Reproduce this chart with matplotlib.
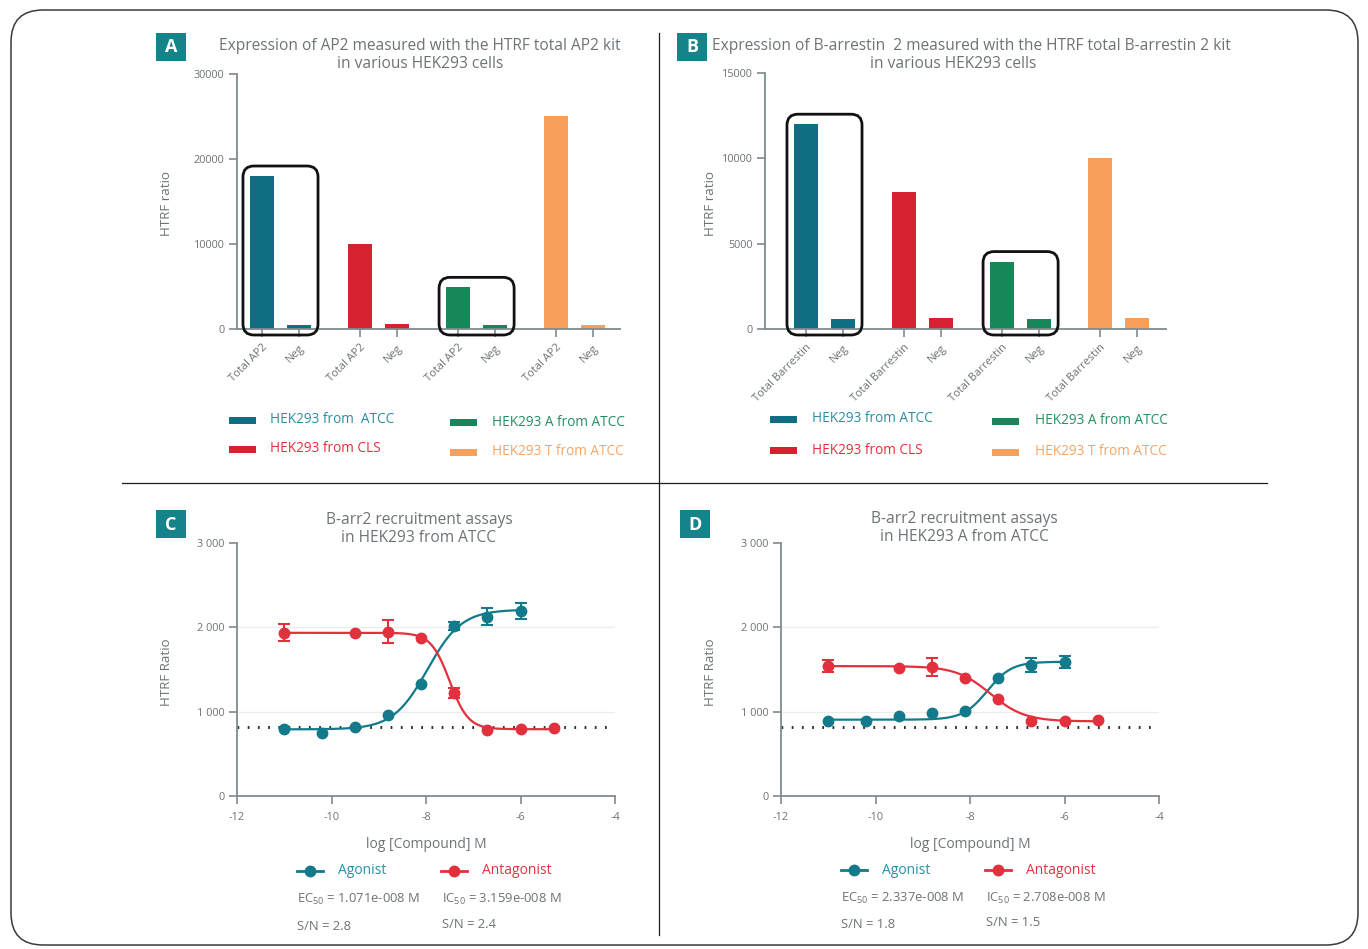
import numpy as np
import matplotlib
matplotlib.use("Agg")
import matplotlib.pyplot as plt
from matplotlib.patches import FancyBboxPatch, Rectangle
from matplotlib.lines import Line2D
from matplotlib.transforms import IdentityTransform
from matplotlib.ticker import FuncFormatter

# ---------------------------------------------------------------- data
cell_lines = ["HEK293 from  ATCC", "HEK293 from CLS", "HEK293 A from ATCC", "HEK293 T from ATCC"]
cell_lines_b = ["HEK293 from ATCC", "HEK293 from CLS", "HEK293 A from ATCC", "HEK293 T from ATCC"]

ap2_total = [18000, 10000, 4900, 25000]
ap2_neg = [500, 550, 500, 500]
barr_total = [12000, 8000, 3950, 10000]
barr_neg = [600, 650, 600, 650]
highlight_groups = [0, 2]

ap2_labels = ["Total AP2", "Neg"]
barr_labels = ["Total Barrestin", "Neg"]

log_conc_agonist = [-11.0, -10.2, -9.5, -8.8, -8.1, -7.4, -6.7, -6.0]
log_conc_antagonist = [-11.0, -9.5, -8.8, -8.1, -7.4, -6.7, -6.0, -5.3]

atcc_agonist = [795, 751, 815, 964, 1325, 2017, 2127, 2198]
atcc_agonist_err = [0, 0, 0, 0, 0, 50, 105, 95]
atcc_antagonist = [1937, 1929, 1949, 1870, 1218, 783, 798, 802]
atcc_antagonist_err = [100, 0, 135, 0, 60, 0, 0, 0]

a_agonist = [890, 890, 949, 985, 1005, 1404, 1554, 1586]
a_agonist_err = [0, 0, 0, 0, 0, 0, 80, 70]
a_antagonist = [1542, 1522, 1534, 1404, 1151, 890, 890, 898]
a_antagonist_err = [70, 0, 107, 0, 0, 0, 0, 0]

# four-parameter logistic fits: (bottom, top, EC50/IC50 [M], hill slope)
atcc_agonist_fit = (790, 2210, 1.071e-8, 1.2)
atcc_antagonist_fit = (792, 1935, 3.159e-8, 2.2)
a_agonist_fit = (905, 1592, 2.337e-8, 1.7)
a_antagonist_fit = (885, 1540, 2.708e-8, 1.2)

atcc_stats = ["EC$_{\\mathregular{50}}$ = 1.071e-008 M", "S/N = 2.8",
              "IC$_{\\mathregular{50}}$ = 3.159e-008 M", "S/N = 2.4"]
a_stats = ["EC$_{\\mathregular{50}}$ = 2.337e-008 M", "S/N = 1.8",
           "IC$_{\\mathregular{50}}$ = 2.708e-008 M", "S/N = 1.5"]

baseline = 815

# ---------------------------------------------------------------- style
W, H, DPI = 1368, 949, 100
plt.rcParams['font.family'] = ['Open Sans', 'DejaVu Sans']
plt.rcParams['mathtext.fontset'] = 'custom'
plt.rcParams['mathtext.rm'] = 'Open Sans'

bar_colors = ["#0f6e82", "#d6222e", "#17875a", "#f6a05c"]
legend_text_colors = ["#2a8da2", "#e0303c", "#22905f", "#f7a463"]
agonist_color = "#137a8b"
antagonist_color = "#e2303c"
agonist_text = "#2493a8"
antagonist_text = "#e5323f"
axis_color = "#7f8b90"
text_gray = "#6c7377"
badge_color = "#15838a"

TITLE_FS = 11.2
TICK_FS = 7.8

fig = plt.figure(figsize=(W / DPI, H / DPI), dpi=DPI)
fig.patch.set_facecolor("white")


def px_axes(l, t, r, b):
    return fig.add_axes([l / W, 1 - b / H, (r - l) / W, (b - t) / H])


def ftext(x, y, s, **kw):
    kw.setdefault("color", text_gray)
    return fig.text(x / W, 1 - y / H, s, **kw)


def badge(l, t, letter):
    fig.add_artist(Rectangle((l / W, 1 - (t + 28) / H), 30 / W, 28 / H,
                             transform=fig.transFigure, color=badge_color, lw=0))
    ftext(l + 15, t + 14.5, letter, color="white", fontsize=13, fontweight="bold",
          ha="center", va="center")


def style_axes(ax):
    for s in ("top", "right"):
        ax.spines[s].set_visible(False)
    for s in ("left", "bottom"):
        ax.spines[s].set_color(axis_color)
        ax.spines[s].set_linewidth(1.3)
    ax.tick_params(colors=axis_color, labelcolor=text_gray, width=1.2, length=5.5,
                   labelsize=TICK_FS)
    ax.set_facecolor("none")


# ---------------------------------------------------------------- frame
fig.add_artist(FancyBboxPatch((11, H - 945), 1347, 935,
                              boxstyle="round,pad=0,rounding_size=32",
                              transform=IdentityTransform(), fill=False,
                              ec="#3a3a3a", lw=1.1))
fig.add_artist(Line2D([659 / W, 659 / W], [1 - 33 / H, 1 - 935 / H], color="#1e1e1e", lw=0.9))
fig.add_artist(Line2D([122 / W, 1267 / W], [1 - 483 / H, 1 - 483 / H], color="#1e1e1e", lw=0.9))


# ---------------------------------------------------------------- bar panels
GROUP_GAP = 2.65
BAR_W = 0.65


def bar_panel(box, xlim, ymax, ystep, totals, negs, labels, ylabel_x):
    ax = px_axes(*box)
    style_axes(ax)
    positions, heights, colors, ticklabels = [], [], [], []
    for g in range(4):
        for i, val in enumerate((totals[g], negs[g])):
            positions.append(g * GROUP_GAP + i)
            heights.append(val)
            colors.append(bar_colors[g])
            ticklabels.append(labels[i])
    ax.bar(positions, heights, width=BAR_W, color=colors, lw=0)
    ax.set_xlim(*xlim)
    ax.set_ylim(0, ymax)
    ax.set_yticks(np.arange(0, ymax + 1, ystep))
    ax.yaxis.set_major_formatter(FuncFormatter(lambda v, p: f"{int(v)}"))
    ax.set_xticks(positions)
    ax.set_xticklabels(ticklabels, rotation=45, ha="right", rotation_mode="anchor",
                       fontsize=8)
    ax.tick_params(axis="x", length=6)
    ftext(ylabel_x, 203, "HTRF ratio", fontsize=9.6, rotation=90, ha="center", va="center")

    # rounded frames around the highlighted pairs
    for g in highlight_groups:
        x0 = g * GROUP_GAP - BAR_W / 2
        x1 = g * GROUP_GAP + 1 + BAR_W / 2
        (px0, py0) = ax.transData.transform((x0, 0))
        (px1, py1) = ax.transData.transform((x1, max(totals[g], negs[g])))
        px0 -= 7
        px1 += 7
        py0 -= 6
        py1 += 10
        fig.add_artist(FancyBboxPatch((px0, py0), px1 - px0, py1 - py0,
                                      boxstyle="round,pad=0,rounding_size=11",
                                      transform=IdentityTransform(), fill=False,
                                      ec="#111111", lw=2.0, clip_on=False))
    return ax


def bar_legend(entries, x_patch_left, x_patch_right, x_text_left, x_text_right, ys_left, ys_right):
    spots = [(x_patch_left, x_text_left, ys_left[0]), (x_patch_left, x_text_left, ys_left[1]),
             (x_patch_right, x_text_right, ys_right[0]), (x_patch_right, x_text_right, ys_right[1])]
    for k, (px, tx, y) in enumerate(spots):
        fig.add_artist(Rectangle((px / W, 1 - (y + 3.5) / H), 27 / W, 7 / H,
                                 transform=fig.transFigure, color=bar_colors[k], lw=0))
        ftext(tx, y, entries[k], color=legend_text_colors[k], fontsize=9.8, va="center")


axA = bar_panel((237, 74, 620, 329), ((237 - 262) / 37, (620 - 262) / 37), 30000, 10000,
                ap2_total, ap2_neg, ap2_labels, 166)
axB = bar_panel((765, 73, 1166, 329), ((765 - 806) / 37, (1166 - 806) / 37), 15000, 5000,
                barr_total, barr_neg, barr_labels, 711)

badge(156, 33, "A")
badge(677, 33, "B")
ftext(420, 46, "Expression of AP2 measured with the HTRF total AP2 kit", fontsize=TITLE_FS,
      ha="center", va="center")
ftext(420, 64, "in various HEK293 cells", fontsize=TITLE_FS, ha="center", va="center")
ftext(712, 46, "Expression of B-arrestin  2 measured with the HTRF total B-arrestin 2 kit",
      fontsize=TITLE_FS, ha="left", va="center")
ftext(953, 64, "in various HEK293 cells", fontsize=TITLE_FS, ha="center", va="center")

bar_legend(cell_lines, 229, 450, 270, 492, (420, 449), (422, 452))
bar_legend(cell_lines_b, 770, 992, 812, 1035, (419, 450), (421, 452))


# ---------------------------------------------------------------- dose-response panels
def four_pl(x, bottom, top, ec50, hill, rising=True):
    logc = np.log10(ec50)
    s = hill if rising else -hill
    return bottom + (top - bottom) / (1 + 10 ** ((logc - x) * s))


def curve_panel(box, ag, ag_err, ag_fit, ant, ant_err, ant_fit, ylabel_x, xlabel_x):
    ax = px_axes(*box)
    style_axes(ax)
    ax.set_xlim(-12, -4)
    ax.set_ylim(0, 3000)
    ax.set_xticks([-12, -10, -8, -6, -4])
    ax.set_yticks([0, 1000, 2000, 3000])
    ax.yaxis.set_major_formatter(FuncFormatter(
        lambda v, p: f"{int(v):,}".replace(",", " ")))
    ax.xaxis.set_major_formatter(FuncFormatter(lambda v, p: f"{int(v)}"))
    ax.tick_params(axis="x", pad=6)
    for g in (1000, 2000):
        ax.axhline(g, color="#ececec", lw=0.9, zorder=0)
    ax.plot([-12, -4.05], [baseline, baseline], color="#2b2b2b", lw=2.1,
            linestyle=(0, (0.6, 2.9)), zorder=1)
    ftext(ylabel_x, 672, "HTRF Ratio", fontsize=9.6, rotation=90, ha="center", va="center")
    ftext(xlabel_x, 845, "log [Compound] M", fontsize=10, ha="center", va="center")

    for xs, ys, errs, fit, color, rising in (
            (log_conc_agonist, ag, ag_err, ag_fit, agonist_color, True),
            (log_conc_antagonist, ant, ant_err, ant_fit, antagonist_color, False)):
        xc = np.linspace(xs[0], xs[-1], 300)
        ax.plot(xc, four_pl(xc, *fit, rising=rising), color=color, lw=1.6, zorder=3)
        ax.plot(xs, ys, "o", color=color, ms=7.5, zorder=4)
        idx = [i for i, e in enumerate(errs) if e > 0]
        ax.errorbar([xs[i] for i in idx], [ys[i] for i in idx],
                    yerr=[errs[i] for i in idx], fmt="none", ecolor=color,
                    elinewidth=1.5, capsize=4.3, capthick=1.5, zorder=4)
    return ax


def curve_legend(x0, y_leg, stats, x_ant):
    for lx, color, label, tcolor in ((x0, agonist_color, "Agonist", agonist_text),
                                     (x_ant, antagonist_color, "Antagonist", antagonist_text)):
        yf = 1 - y_leg / H
        fig.add_artist(Line2D([lx / W, (lx + 26) / W], [yf, yf], color=color, lw=2))
        fig.add_artist(Line2D([(lx + 13) / W], [yf], marker="o", ms=7.5, color=color))
        ftext(lx + 41, y_leg, label, color=tcolor, fontsize=10, va="center")
    ftext(x0, y_leg + 28, stats[0], fontsize=9.4, va="center")
    ftext(x0, y_leg + 55, stats[1], fontsize=9.4, va="center")
    ftext(x_ant + 1, y_leg + 28, stats[2], fontsize=9.4, va="center")
    ftext(x_ant + 1, y_leg + 53, stats[3], fontsize=9.4, va="center")


axC = curve_panel((237, 543, 615, 796), atcc_agonist, atcc_agonist_err, atcc_agonist_fit,
                  atcc_antagonist, atcc_antagonist_err, atcc_antagonist_fit, 166, 426)
axD = curve_panel((781, 543, 1159, 796), a_agonist, a_agonist_err, a_agonist_fit,
                  a_antagonist, a_antagonist_err, a_antagonist_fit, 710, 970)

badge(156, 510, "C")
badge(680, 510, "D")
ftext(419, 520, "B-arr2 recruitment assays", fontsize=TITLE_FS, ha="center", va="center")
ftext(419, 538, "in HEK293 from ATCC", fontsize=TITLE_FS, ha="center", va="center")
ftext(964, 519, "B-arr2 recruitment assays", fontsize=TITLE_FS, ha="center", va="center")
ftext(964, 537, "in HEK293 A from ATCC", fontsize=TITLE_FS, ha="center", va="center")

curve_legend(297, 871, atcc_stats, 441)
curve_legend(841, 870, a_stats, 985)

fig.savefig("out.png", dpi=DPI, facecolor="white")
